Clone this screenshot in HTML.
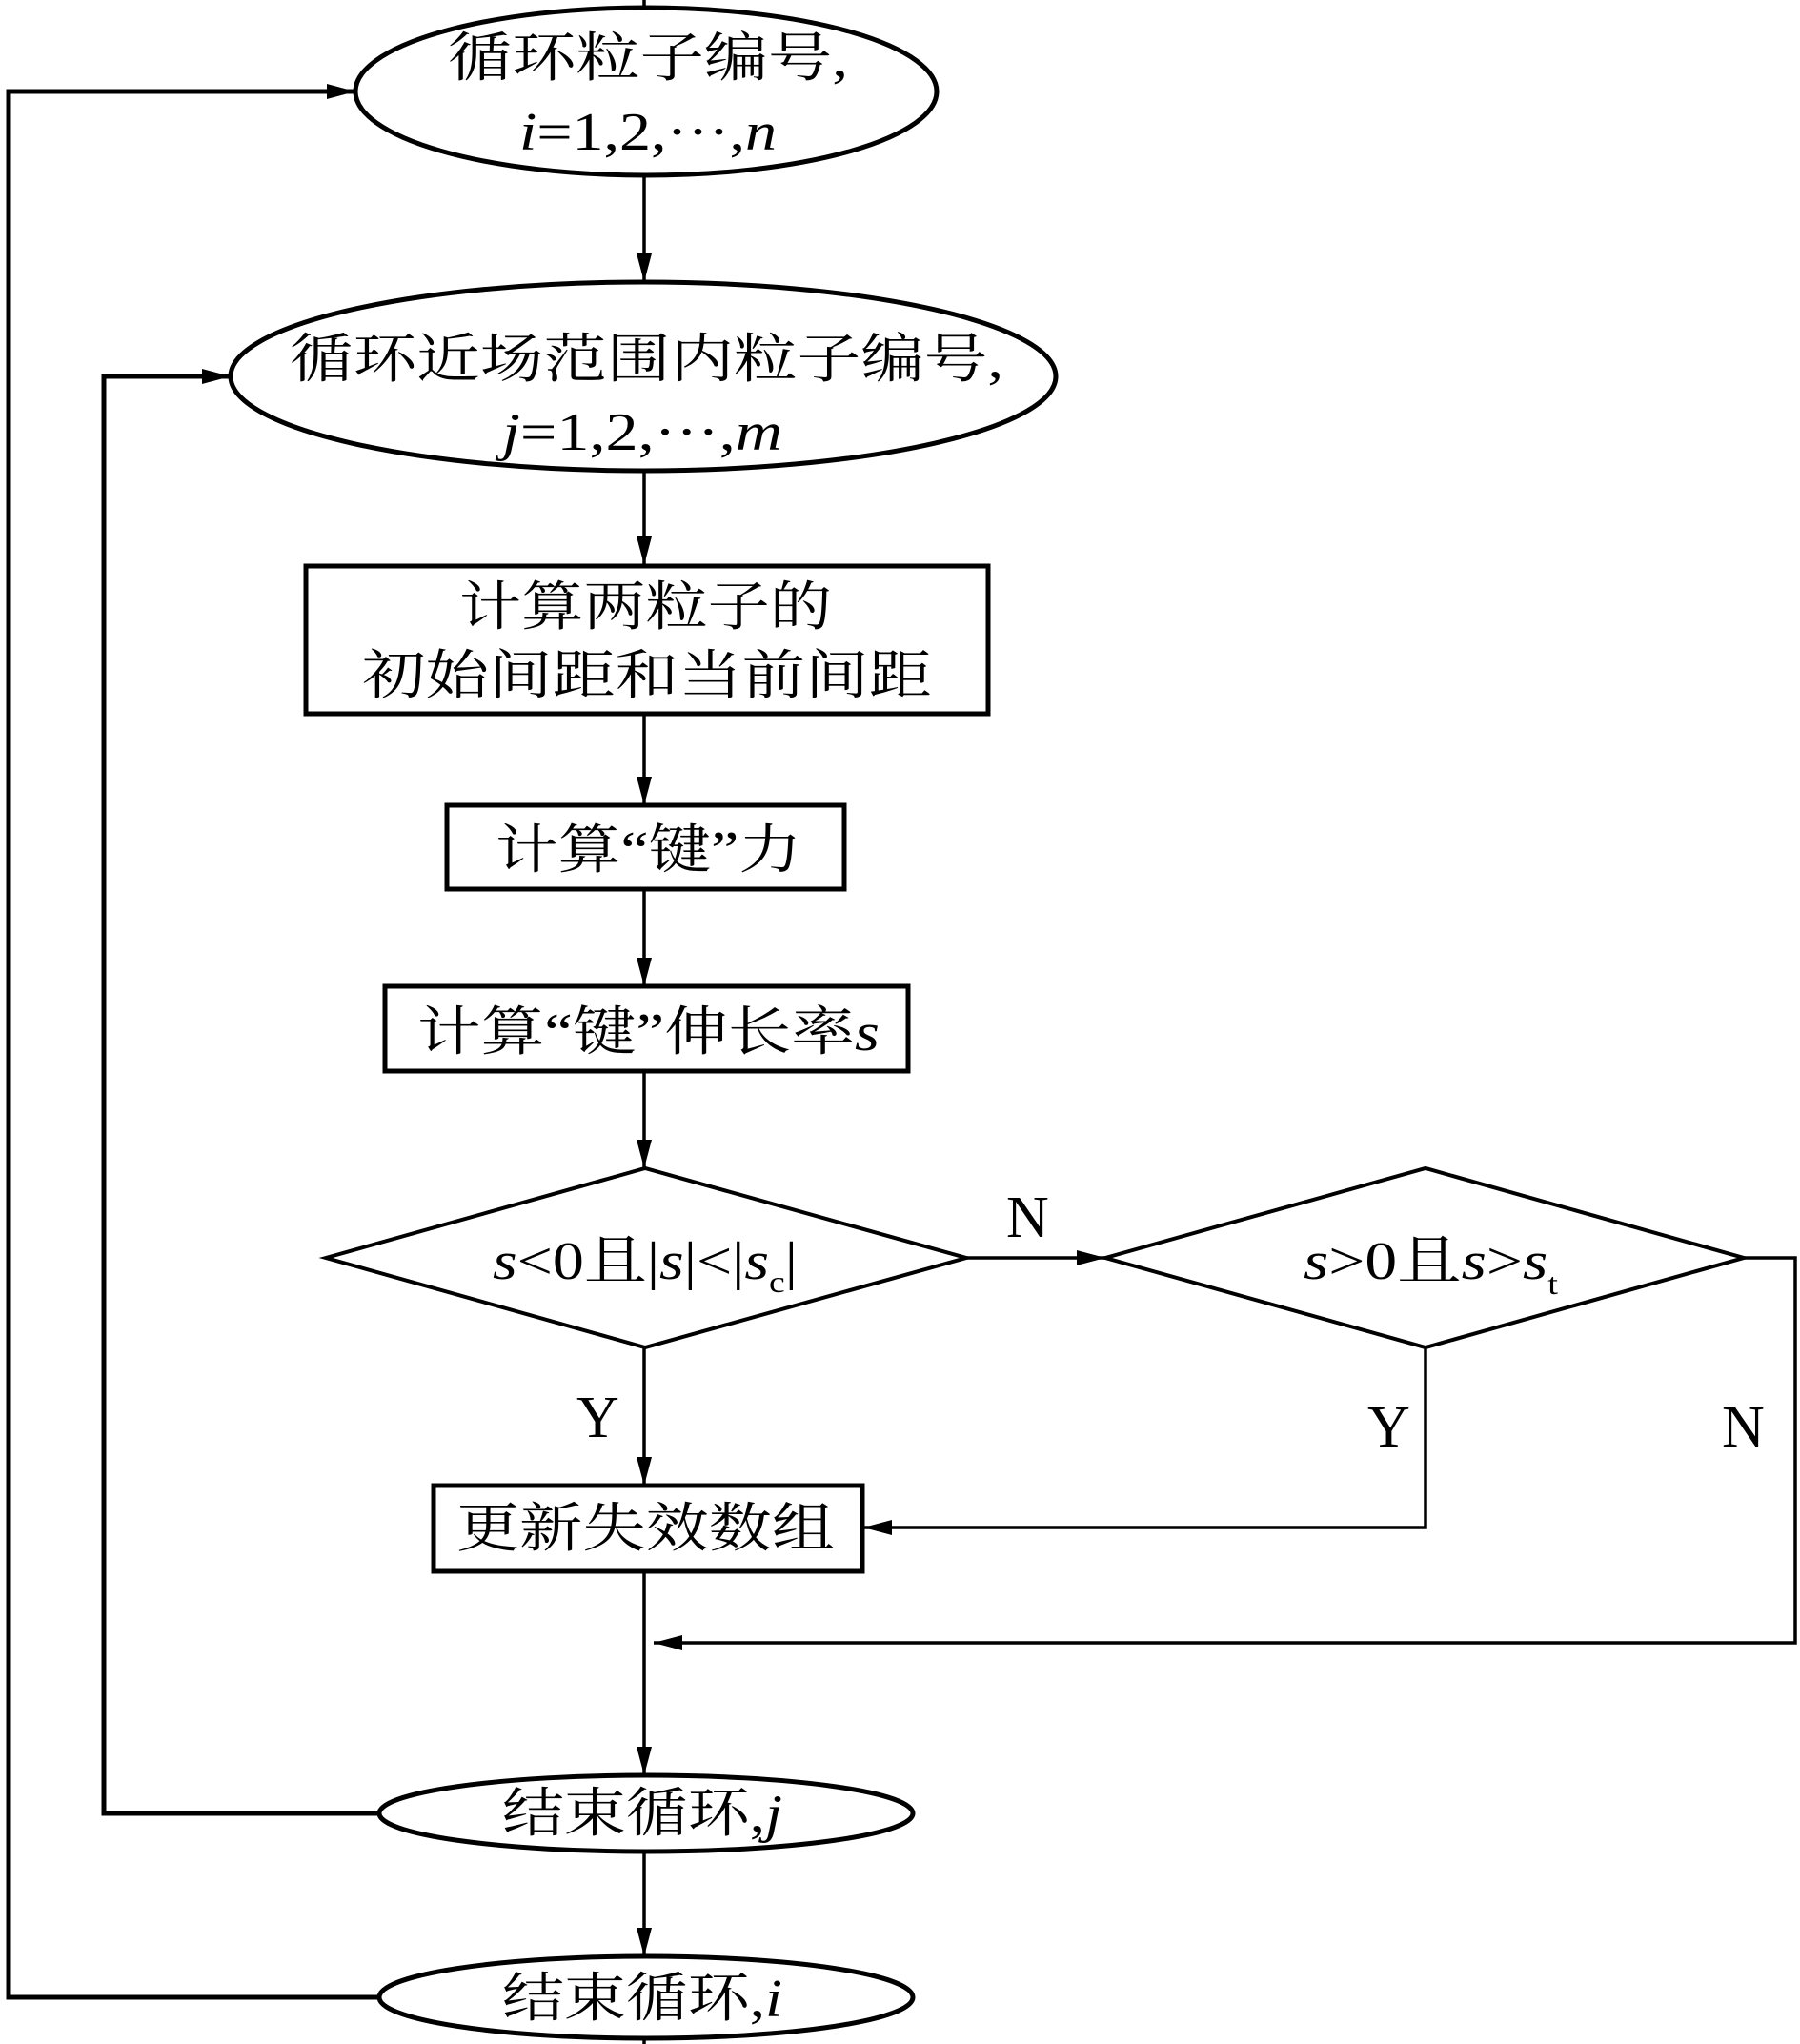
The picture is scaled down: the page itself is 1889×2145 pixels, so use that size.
<!DOCTYPE html>
<html><head><meta charset="utf-8"><style>
html,body{margin:0;padding:0;background:#fff;}
svg{display:block;}
text{font-family:"Liberation Serif","Noto Serif CJK SC","Noto Sans CJK SC",serif;fill:#000;}
</style></head><body>
<svg width="1889" height="2145" viewBox="0 0 1889 2145" xmlns="http://www.w3.org/2000/svg">
<defs>
<marker id="a" markerWidth="30" markerHeight="16" refX="30" refY="8" orient="auto" markerUnits="userSpaceOnUse">
<path d="M0,0 L30,8 L0,16 Z" fill="#000"/></marker>
</defs>
<g stroke="#000" fill="none" stroke-width="3.5">
<line x1="676" y1="0" x2="676" y2="10"/>
<line x1="676" y1="2138" x2="676" y2="2145"/>
<ellipse cx="678" cy="96" rx="305" ry="88" stroke-width="5"/>
<ellipse cx="675" cy="395" rx="433" ry="99" stroke-width="5"/>
<rect x="321" y="594" width="716" height="155" stroke-width="5"/>
<rect x="469" y="845" width="417" height="88" stroke-width="5"/>
<rect x="404" y="1035" width="549" height="89" stroke-width="5"/>
<polygon points="342,1320 677,1226 1014,1320 677,1414" stroke-width="4"/>
<polygon points="1160,1320 1496,1226 1830,1320 1496,1414" stroke-width="4"/>
<rect x="455" y="1559" width="450" height="90" stroke-width="5"/>
<ellipse cx="678" cy="1903" rx="280" ry="40" stroke-width="5"/>
<ellipse cx="678" cy="2096" rx="280" ry="43" stroke-width="5"/>
<line x1="676" y1="185" x2="676" y2="296" marker-end="url(#a)"/>
<line x1="676" y1="494" x2="676" y2="593" marker-end="url(#a)"/>
<line x1="676" y1="749" x2="676" y2="845" marker-end="url(#a)"/>
<line x1="676" y1="933" x2="676" y2="1035" marker-end="url(#a)"/>
<line x1="676" y1="1124" x2="676" y2="1226" marker-end="url(#a)"/>
<line x1="676" y1="1414" x2="676" y2="1559" marker-end="url(#a)"/>
<line x1="676" y1="1649" x2="676" y2="1863" marker-end="url(#a)"/>
<line x1="676" y1="1943" x2="676" y2="2053" marker-end="url(#a)"/>
<line x1="1014" y1="1320" x2="1160" y2="1320" marker-end="url(#a)"/>
<polyline points="1830,1320 1884,1320 1884,1724 686,1724" marker-end="url(#a)"/>
<polyline points="1496,1414 1496,1603 906,1603" marker-end="url(#a)"/>
<polyline points="398,2096 9,2096 9,96 373,96" stroke-width="5" marker-end="url(#a)"/>
<polyline points="398,1903 109,1903 109,395 242,395" stroke-width="5" marker-end="url(#a)"/>
</g>
<g font-size="56">
<text x="470" y="80" textLength="420" lengthAdjust="spacingAndGlyphs">循环粒子编号,</text>
<text x="545" y="157" textLength="270" lengthAdjust="spacingAndGlyphs"><tspan font-style="italic">i</tspan>=1,2,···,<tspan font-style="italic">n</tspan></text>
<text x="304" y="396" textLength="749" lengthAdjust="spacingAndGlyphs">循环近场范围内粒子编号,</text>
<text x="527" y="472" textLength="294" lengthAdjust="spacingAndGlyphs"><tspan font-style="italic">j</tspan>=1,2,···,<tspan font-style="italic">m</tspan></text>
<text x="482" y="656" textLength="391" lengthAdjust="spacingAndGlyphs">计算两粒子的</text>
<text x="380" y="728" textLength="598" lengthAdjust="spacingAndGlyphs">初始间距和当前间距</text>
<text x="520" y="911" textLength="321" lengthAdjust="spacingAndGlyphs">计算“键”力</text>
<text x="438" y="1102" textLength="485" lengthAdjust="spacingAndGlyphs">计算“键”伸长率<tspan font-style="italic">s</tspan></text>
<text x="479" y="1623" textLength="397" lengthAdjust="spacingAndGlyphs">更新失效数组</text>
<text x="527" y="1922" textLength="294" lengthAdjust="spacingAndGlyphs">结束循环,<tspan font-style="italic">j</tspan></text>
<text x="527" y="2116" textLength="294" lengthAdjust="spacingAndGlyphs">结束循环,<tspan font-style="italic">i</tspan></text>
</g>
<g font-size="56">
<text x="517" y="1342" textLength="320" lengthAdjust="spacingAndGlyphs"><tspan font-style="italic">s</tspan>&lt;0且|<tspan font-style="italic">s</tspan>|&lt;|<tspan font-style="italic">s</tspan><tspan font-size="32" dy="14">c</tspan><tspan dy="-14">|</tspan></text>
<text x="1368" y="1342" textLength="267" lengthAdjust="spacingAndGlyphs"><tspan font-style="italic">s</tspan>&gt;0且<tspan font-style="italic">s</tspan>&gt;<tspan font-style="italic">s</tspan><tspan font-size="32" dy="16">t</tspan></text>
</g>
<g font-size="62">
<text x="1056" y="1298">N</text>
<text x="605" y="1508">Y</text>
<text x="1435" y="1518">Y</text>
<text x="1807" y="1518">N</text>
</g>
</svg>
</body></html>
